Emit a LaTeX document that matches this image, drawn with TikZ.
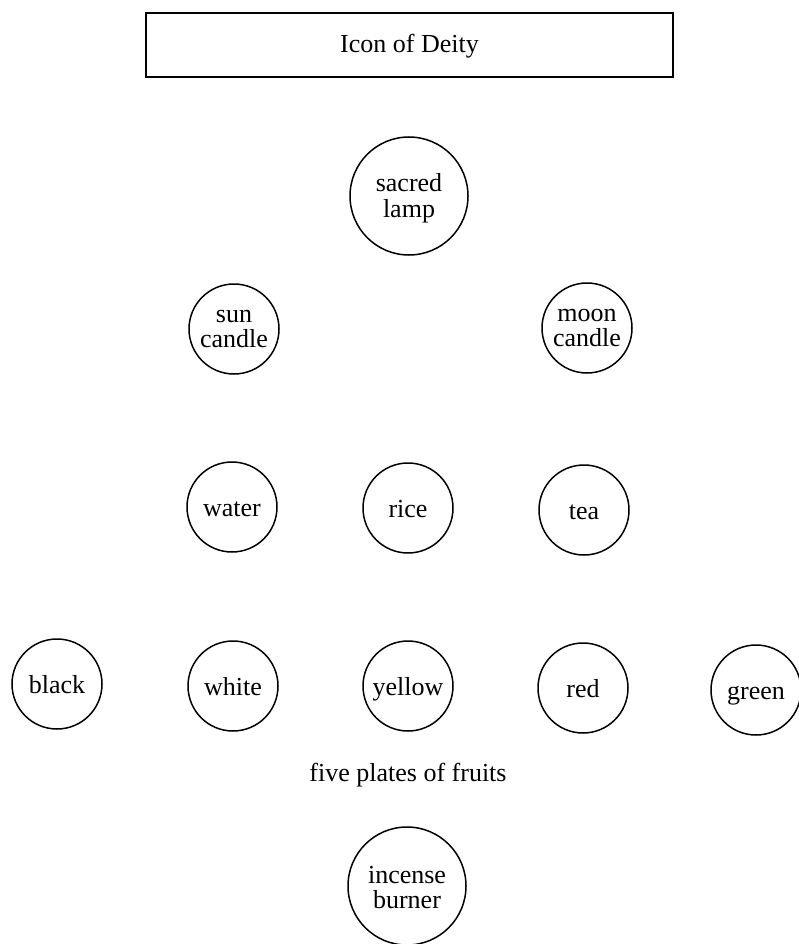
\documentclass[tikz,border=0pt]{standalone}
\usepackage{fontspec}
\setmainfont{Liberation Serif}
\newcommand{\lowered}[2]{\raisebox{-#1}[\height][\depth]{\begin{tabular}{@{}c@{}}#2\end{tabular}}}
\begin{document}
\begin{tikzpicture}[x=1pt,y=-1pt,
  every node/.style={font=\fontsize{26}{25.5}\selectfont},
  plate/.style={draw,circle,line width=1.5pt,minimum size=90pt,inner sep=0pt,align=center},
  oneword/.style={plate,text height=18pt,text depth=0pt},
  bigplate/.style={plate,minimum size=118pt},
  altar/.style={draw,line width=1.5pt,minimum width=527pt,minimum height=64pt,inner sep=0pt,text height=19pt,text depth=3pt}]
\useasboundingbox (0,0) rectangle (798,944);
\node[altar] (icon) at (409.5,45) {Icon of Deity};
\node[bigplate] (lamp) at (409,196) {\lowered{3pt}{sacred\\lamp}};
\node[plate] (sun) at (234,329) {sun\\candle};
\node[plate] (moon) at (587,328) {moon\\candle};
\node[oneword] (water) at (232,507) {water};
\node[oneword] (rice) at (408,508) {rice};
\node[oneword] (tea) at (584,510) {tea};
\node[oneword] (black) at (57,684) {black};
\node[oneword] (white) at (233,686) {white};
\node[oneword] (yellow) at (408,686) {yellow};
\node[oneword] (red) at (583,688) {red};
\node[oneword] (green) at (756,690) {green};
\node (fruits) at (408,775) {five plates of fruits};
\node[bigplate] (incense) at (407,886) {\lowered{5pt}{incense\\burner}};
\end{tikzpicture}
\end{document}
